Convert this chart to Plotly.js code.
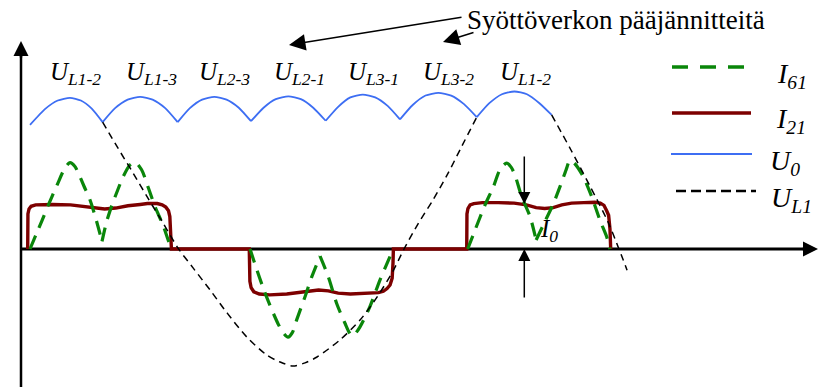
<!DOCTYPE html>
<html>
<head>
<meta charset="utf-8">
<script src="https://cdn.plot.ly/plotly-3.0.1.min.js"></script>
<style>
  html, body { margin: 0; padding: 0; background: #fff; }
  #chart { width: 819px; height: 387px; }
</style>
</head>
<body>
<div id="chart"></div>
<script>
// Six-pulse rectifier waveforms. Angle in electrical degrees, values in units of the DC current I0.

// DC output voltage U0 (arcs of the line voltages, split at the commutation points)
const u0Deg = [
  1.9, 14.6, 24.6, 34.6, 43.5, 52.4, 61.3, null,
  61.3, 71.5, 81.8, 92, 102.2, 112.5, 122.7, null,
  122.7, 132.7, 142.7, 152.7, 162.7, 172.7, 182.7, null,
  182.7, 193, 203, 213.3, 223.5, 233.6, 243.8, null,
  243.8, 254, 264, 274.2, 284.3, 294.5, 304.6, null,
  304.6, 315, 325.5, 336, 346.5, 357, 367.4, null,
  367.4, 377.7, 388, 398.2, 408.5, 418.7, 428.7
];
const u0Val = [
  2.76, 3.12, 3.30, 3.36, 3.30, 3.12, 2.82, null,
  2.82, 3.13, 3.32, 3.38, 3.32, 3.13, 2.82, null,
  2.82, 3.13, 3.32, 3.38, 3.32, 3.14, 2.84, null,
  2.84, 3.14, 3.33, 3.39, 3.33, 3.14, 2.85, null,
  2.85, 3.16, 3.37, 3.43, 3.37, 3.18, 2.88, null,
  2.88, 3.20, 3.41, 3.47, 3.41, 3.22, 2.93, null,
  2.93, 3.24, 3.44, 3.50, 3.44, 3.24, 2.98
];

// Phase voltage U_L1
const ul1Deg = [
  61.3, 73.9, 86.2, 98.4, 110.7, 123, 135.3, 149.2, 163.1, 179.4, 195.8, 206.4, 217,
  226.9, 236.7, 255.5, 271.9, 285.8, 298.9, 307.9, 319.4, 331.6, 343.1, 355.3, 367.4, null,
  428.7, 444.5, 460, 474.8, 490.4
];
const ul1Val = [
  2.82, 2.24, 1.69, 1.13, 0.58, 0.02, -0.42, -0.91, -1.42, -1.96, -2.36, -2.51, -2.6,
  -2.53, -2.4, -2.02, -1.58, -1.07, -0.49, 0, 0.56, 1.09, 1.64, 2.29, 2.93, null,
  2.98, 2.2, 1.4, 0.6, -0.47
];

// Line current I21 (smoothed by the DC inductance)
const i21Deg = [
  0, 0.2, 1.1, 2.8, 6.5, 20, 35, 45, 55, 63, 72, 82, 92, 98, 106, 110, 113, 115.2, 116.3, 117.2, 117.6,
  181.3, 181.8, 182.8, 185, 189.5, 198, 212, 222, 230, 238, 246, 254, 264, 280, 287, 291, 294, 296.5, 298.2, 298.9, 299.2,
  359.2, 359.4, 360.2, 362, 365, 372, 385, 398, 408, 416, 423, 430, 437, 445, 455, 464, 468.5, 471.5, 473.7, 475.3, 476.4, 477
];
const i21Val = [
  0, 0.78, 0.89, 0.95, 0.98, 0.99, 0.98, 0.95, 0.91, 0.89, 0.91, 0.96, 0.99, 1.01, 1.01, 0.98, 0.93, 0.85, 0.72, 0.3, 0,
  0, -0.72, -0.86, -0.95, -1.0, -1.02, -1.0, -0.97, -0.93, -0.91, -0.93, -0.98, -1.0, -0.99, -0.97, -0.94, -0.88, -0.8, -0.65, -0.3, 0,
  0, 0.78, 0.9, 0.98, 1.01, 1.03, 1.03, 1.02, 0.98, 0.92, 0.9, 0.92, 0.98, 1.02, 1.03, 1.04, 1.02, 0.97, 0.85, 0.75, 0.45, 0
];

// Line current I61 (six-pulse bridge without smoothing)
const i61Deg = [
  1.9, 7, 11.7, 16.6, 24, 30.5, 34.6, 38.5, 41.2, 46, 51, 56, 60.8, null,
  60.8, 64.5, 69, 73.5, 78, 83.7, 87.8, 93.2, 98.7, 104.2, 110.7, 116.4, 118.1, null,
  181.9, 187, 192.7, 197, 201, 205, 209, 213, 216.5, 220, 226.9, 232.4, 239.2, null,
  239.2, 246, 252.8, 259.6, 263, 265.4, 268, 271.9, 280, 288.2, 296.4, 298.9, null,
  360, 366, 374.2, 381, 386.4, 391.9, 395.5, 398.7, 404.2, 411, 416, null,
  416, 423, 430, 436, 440.5, 443.7, 447.5, 454.5, 461.5, 468.2, 473.7, 476.4
];
const i61Val = [
  0, 0.33, 0.63, 0.96, 1.42, 1.8, 1.92, 1.84, 1.7, 1.4, 1.09, 0.65, 0.17, null,
  0.17, 0.6, 0.98, 1.3, 1.6, 1.87, 1.93, 1.76, 1.36, 0.94, 0.53, 0.09, 0, null,
  0, -0.42, -0.87, -1.17, -1.43, -1.67, -1.86, -1.96, -1.86, -1.58, -1.06, -0.62, -0.16, null,
  -0.16, -0.62, -1.21, -1.65, -1.85, -1.93, -1.88, -1.73, -1.28, -0.69, -0.17, 0, null,
  0, 0.42, 0.98, 1.38, 1.76, 1.91, 1.82, 1.64, 1.16, 0.72, 0.2, null,
  0.2, 0.6, 1.0, 1.42, 1.76, 1.97, 1.9, 1.61, 1.16, 0.64, 0.27, 0
];

// Line voltage feeding each U0 arc, and the angle of its maximum
const segLabels = ['L1-2', 'L1-3', 'L2-3', 'L2-1', 'L3-1', 'L3-2', 'L1-2'];
const segPeakDeg = [31, 93, 153, 214, 275, 336, 399];

// DC current level marked on the chart
const I0 = 1;

// ---- drawing ----
const W = 819, H = 387;
const px = x => x / W;
const py = y => 1 - y / H;
const serif = 'Liberation Serif';

const S = {
  i61: { color: '#0a860a', width: 3.2, dash: '14px,9px' },
  i21: { color: '#7d0000', width: 3.4 },
  u0:  { color: '#3d6ef3', width: 1.8 },
  ul1: { color: '#000000', width: 1.5, dash: '7px,5px' }
};

const traces = [
  { x: i21Deg, y: i21Val, name: 'I21', mode: 'lines', line: { color: S.i21.color, width: S.i21.width, shape: 'linear' }, hoverinfo: 'skip' },
  { x: i61Deg, y: i61Val, name: 'I61', mode: 'lines', line: { color: S.i61.color, width: S.i61.width, dash: S.i61.dash, shape: 'spline', smoothing: 0.8 }, connectgaps: false, hoverinfo: 'skip' },
  { x: u0Deg, y: u0Val, name: 'U0', mode: 'lines', line: { color: S.u0.color, width: S.u0.width, shape: 'spline', smoothing: 0.6 }, connectgaps: false, hoverinfo: 'skip' },
  { x: ul1Deg, y: ul1Val, name: 'UL1', mode: 'lines', line: { color: S.ul1.color, width: S.ul1.width, dash: S.ul1.dash, shape: 'spline', smoothing: 0.8 }, connectgaps: false, hoverinfo: 'skip' }
];

const annotations = [];
const textFont = size => ({ family: serif, size: size, color: '#000' });

// line-voltage labels above the U0 arcs
segLabels.forEach((s, i) => {
  annotations.push({
    xref: 'x', yref: 'y', x: segPeakDeg[i], y: 3.9, xshift: 10,
    text: '<i>U<sub>' + s + '</sub></i>', showarrow: false,
    font: textFont(25)
  });
});

// caption with two pointers
annotations.push({
  xref: 'paper', yref: 'paper', x: px(465), y: py(20), xanchor: 'left', yanchor: 'middle',
  text: 'Syöttöverkon pääjännitteitä', showarrow: false,
  font: textFont(27)
});
annotations.push({
  xref: 'paper', yref: 'paper', x: px(289), y: py(45), text: '', showarrow: true,
  ax: 174, ay: -28, arrowhead: 2, arrowsize: 2.2, arrowwidth: 1.5, arrowcolor: '#000', standoff: 0
});
annotations.push({
  xref: 'paper', yref: 'paper', x: px(443), y: py(42), text: '', showarrow: true,
  ax: 32, ay: -10, arrowhead: 2, arrowsize: 2.2, arrowwidth: 1.5, arrowcolor: '#000', standoff: 0
});

// axis arrowheads
annotations.push({
  xref: 'paper', yref: 'paper', x: px(21), y: py(41), text: '', showarrow: true,
  ax: 0, ay: 18, arrowhead: 2, arrowsize: 1.2, arrowwidth: 2.5, arrowcolor: '#000', standoff: 0
});
annotations.push({
  xref: 'paper', yref: 'paper', x: px(819), y: py(249), text: '', showarrow: true,
  ax: -18, ay: 0, arrowhead: 2, arrowsize: 1.2, arrowwidth: 2.5, arrowcolor: '#000', standoff: 0
});

// I0 dimension arrows
const i0Deg = 406.3;
annotations.push({
  xref: 'x', yref: 'y', axref: 'x', ayref: 'y', x: i0Deg, y: I0, ax: i0Deg, ay: 2.09,
  text: '', showarrow: true, arrowhead: 2, arrowsize: 1.6, arrowwidth: 1.5, arrowcolor: '#000', standoff: 0
});
annotations.push({
  xref: 'x', yref: 'y', axref: 'x', ayref: 'y', x: i0Deg, y: 0, ax: i0Deg, ay: -1.11,
  text: '', showarrow: true, arrowhead: 2, arrowsize: 1.6, arrowwidth: 1.5, arrowcolor: '#000', standoff: 0
});
annotations.push({
  xref: 'paper', yref: 'paper', x: px(538), y: py(231), xanchor: 'left', yanchor: 'middle',
  text: '<i>I<sub>0</sub></i>', showarrow: false, font: textFont(25)
});

// key
const key = [
  { txt: 'I<sub>61</sub>', st: S.i61, y: 67, x0: 672, x1: 744, tx: 775, dash: '16px,12px' },
  { txt: 'I<sub>21</sub>', st: S.i21, y: 113, x0: 672, x1: 751, tx: 774 },
  { txt: 'U<sub>0</sub>', st: S.u0, y: 154, x0: 671, x1: 752, tx: 768 },
  { txt: 'U<sub>L1</sub>', st: S.ul1, y: 191, x0: 676, x1: 756, tx: 769, dash: '10px,5px' }
];
const shapes = [
  // axes
  { type: 'line', xref: 'paper', yref: 'paper', x0: px(21), x1: px(21), y0: py(387), y1: py(50), layer: 'below', line: { color: '#000', width: 2.5 } },
  { type: 'line', xref: 'paper', yref: 'paper', x0: px(21), x1: px(810), y0: py(249), y1: py(249), layer: 'below', line: { color: '#000', width: 3 } }
];
key.forEach(k => {
  shapes.push({
    type: 'line', xref: 'paper', yref: 'paper', x0: px(k.x0), x1: px(k.x1), y0: py(k.y), y1: py(k.y),
    line: { color: k.st.color, width: k.st.width + (k.st === S.ul1 ? 0.8 : 0.3), dash: k.dash || 'solid' }
  });
  annotations.push({
    xref: 'paper', yref: 'paper', x: px(k.tx), y: py(k.y + 8), xanchor: 'left', yanchor: 'middle',
    text: '<i>' + k.txt + '</i>', showarrow: false, font: textFont(28)
  });
});

const layout = {
  width: W, height: H,
  margin: { l: 0, r: 0, t: 0, b: 0 },
  paper_bgcolor: '#fff', plot_bgcolor: '#fff',
  font: { family: serif, color: '#000' },
  showlegend: false,
  xaxis: { range: [-22.66, 647.43], visible: false, fixedrange: true },
  yaxis: { range: [-3.0667, 5.5333], visible: false, fixedrange: true },
  annotations: annotations,
  shapes: shapes
};

Plotly.newPlot('chart', traces, layout, { staticPlot: true, displayModeBar: false });
</script>
</body>
</html>
